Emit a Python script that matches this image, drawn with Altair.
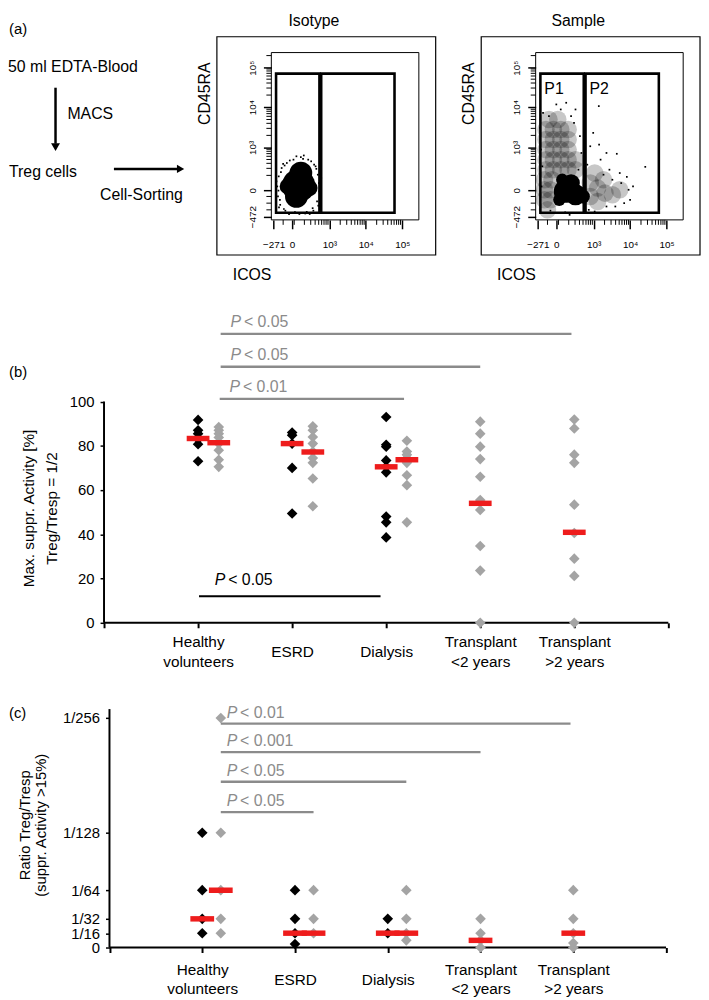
import json
import math
import altair as alt
import pandas as pd

FONT = "Liberation Sans"
GRAY_PT = "#a4a4a4"
GRAY_LN = "#8b8b8b"
RED = "#ee1c1c"

# ======================= DATA =======================
category_lines = [["Healthy", "volunteers"], ["ESRD"], ["Dialysis"],
                  ["Transplant", "<2 years"], ["Transplant", ">2 years"]]

# ---- panel (b): Max. suppr. Activity [%], Treg/Tresp = 1/2
b_black_healthy = [91.7, 87.0, 85.5, 83.0, 80.7, 73.0]
b_black_esrd = [86.0, 84.8, 81.0, 70.0, 49.4]
b_black_dialysis = [93.0, 80.5, 79.6, 73.4, 70.5, 68.0, 48.0, 45.4, 38.6]
b_gray_healthy = [88.5, 87.0, 85.5, 83.8, 81.0, 78.0, 73.7, 70.5]
b_gray_esrd = [88.8, 87.0, 84.0, 81.0, 77.4, 74.5, 72.3, 65.2, 52.7]
b_gray_dialysis = [82.3, 77.4, 76.0, 74.5, 72.3, 66.7, 62.2, 45.4]
b_gray_tx_lt2 = [90.9, 85.5, 79.6, 74.0, 66.0, 55.5, 51.0, 34.7, 23.6, 0.0]
b_gray_tx_gt2 = [91.9, 87.8, 76.0, 72.3, 53.4, 40.6, 29.0, 21.2, 0.0]
b_median_black = [83.3, 81.0, 70.5]
b_median_gray = [81.4, 77.2, 73.7, 54.0, 40.9]
b_ticks = [0, 20, 40, 60, 80, 100]
b_sig_from = [1.24, 1.24, 1.23]
b_sig_to = [4.97, 4.0, 3.19]
b_sig_level = [130.6, 115.7, 101.2]
b_sig_text = ["< 0.05", "< 0.05", "< 0.01"]
b_sigk_from = [1.01]
b_sigk_to = [2.94]
b_sigk_level = [12.0]
b_sigk_text = ["< 0.05"]

# ---- panel (c): Ratio Treg/Tresp (denominator of ratio)
c_black_healthy = [128, 64, 32, 16]
c_black_esrd = [64, 32, 16, 4]
c_black_dialysis = [32, 16]
c_gray_healthy = [256, 128, 64, 32, 16]
c_gray_esrd = [64, 32, 16]
c_gray_dialysis = [64, 32, 16, 8]
c_gray_tx_lt2 = [32, 16, 8, 0]
c_gray_tx_gt2 = [64, 32, 16, 5, 0]
c_median_black = [32, 16, 16]
c_median_gray = [64, 16, 16, 8, 16]
c_ticks = [0, 16, 32, 64, 128, 256]
c_tick_labels = ["0", "1/16", "1/32", "1/64", "1/128", "1/256"]
c_sig_from = [1.2, 1.2, 1.2, 1.2]
c_sig_to = [4.97, 4.0, 3.2, 2.2]
c_sig_level = [249.8, 218.0, 185.0, 151.0]
c_sig_text = ["< 0.01", "< 0.001", "< 0.05", "< 0.05"]

# ---- panel (a): flow cytometry (display units 0-100 on each axis)
flow_x_ticks = [1.5, 14, 39.3, 64, 88.7]
flow_x_labels = ["\u2212271", "0", "10\u00b3", "10\u2074", "10\u2075"]
flow_y_ticks = [2, 17.7, 43.3, 67.4, 91]
flow_y_labels = ["\u2212472", "0", "10\u00b3", "10\u2074", "10\u2075"]
flow_x_minor = [8, 15.5, 22.4, 26.7, 29.7, 32.1, 34.1, 35.7, 37.1, 38.4,
                46.7, 51.1, 54.2, 56.6, 58.5, 60.2, 61.6, 62.9,
                71.4, 75.8, 78.9, 81.3, 83.2, 84.9, 86.3, 87.6]
flow_y_minor = [6, 10, 14, 26.6, 30.8, 33.8, 36.1, 38.0, 39.6, 41.0, 42.2,
                50.5, 54.7, 57.7, 60.0, 61.9, 63.5, 64.9, 66.1,
                74.6, 78.8, 81.8, 84.1, 86.0, 87.6, 89.0, 90.2, 98.2]
gate_x1 = [3.2, 33.8]
gate_x2 = [32.6, 83.5]
gate_y1 = [4.3, 4.3]
gate_y2 = [87.4, 87.4]
gate_names = ["P1", "P2"]

# isotype: one dense event cloud (core discs) + scattered edge events
iso_blob_x = [18.5, 17.0, 20.0, 11.0, 26.0]
iso_blob_y = [20.5, 14.0, 28.0, 20.0, 19.0]
iso_blob_op = [1, 1, 1, 1, 1]
iso_speck_x = [4.0, 4.5, 5.0, 6.0, 7.0, 9.5, 10.5, 14, 15, 19, 20, 24, 25, 28, 29, 31, 31.5,
               32.5, 32.2, 33.5, 3.5, 8, 12, 22, 27, 30.5, 26, 5.2, 33.8, 4.8, 6.5, 8.5, 12.5,
               17.0, 21.5, 28.5, 30.0, 32.8, 31.8, 23.0, 16.0, 9.0, 5.8]
iso_speck_y = [20, 14, 26, 9, 31, 5.5, 34, 4.2, 36, 3.5, 37.5, 4.8, 36, 7, 33, 11, 27,
               17, 22, 13, 23, 33.5, 3.5, 38.5, 35, 30.5, 3.5, 7.5, 25, 17.5, 28.5, 6.5, 35.5,
               38.0, 36.5, 5.5, 32.0, 20.0, 8.5, 3.8, 4.6, 32.5, 12.0]

# sample: dense CD45RA- core, CD45RA+ population (P1) and ICOS+ tail (P2)
smp_core_x = [20, 27, 24, 32, 16, 18]
smp_core_y = [17, 15, 22, 14, 12, 24]
smp_cloud_x = [9, 15,
               7, 12, 17, 22,
               7, 12, 17, 22,
               7, 12, 17, 22,
               7, 12, 17, 22, 27,
               7, 12, 17, 22, 27,
               6, 11, 6, 10, 6, 10, 8,
               37, 37, 42, 42, 47, 52, 57, 46, 40]
smp_cloud_y = [60, 60,
               54, 54, 54, 54,
               48, 48, 48, 48,
               42, 42, 42, 42,
               36, 36, 36, 36, 36,
               30, 30, 30, 30, 30,
               24, 24, 18, 18, 12, 12, 6,
               22, 14, 19, 11, 16, 15, 18, 24, 28]
smp_speck_x = [74.3, 42.8, 20.7, 14.0, 55.0, 61.8, 37.0, 44.0, 50.0, 58.0, 63.0, 48.0, 40.0,
               30.0, 20.0, 10.0, 4.0, 3.5, 3.0, 5.0, 27.0, 26.0, 30.0, 31.0, 35.0, 46.0,
               52.0, 57.0, 64.0, 36.0, 23.0, 43.0, 39.0, 48.0, 66.0, 60.0, 33.0, 24.0,
               9.0, 17.0, 4.5, 29.0, 33.0, 54.0, 45.0]
smp_speck_y = [31.7, 68.0, 70.0, 69.0, 39.5, 25.7, 44.0, 36.0, 30.0, 22.0, 18.0, 8.0, 5.0,
               4.0, 4.5, 5.5, 20.0, 42.0, 55.0, 64.0, 66.0, 58.0, 50.0, 40.0, 33.0, 27.0,
               24.0, 28.0, 12.0, 6.0, 3.0, 45.0, 52.0, 40.0, 20.0, 10.0, 58.0, 62.0,
               62.0, 66.0, 32.0, 30.0, 25.0, 8.0, 4.0]

# ======================= STYLE / LAYOUT =======================
iso_blob_d = [38, 26, 26, 18, 18]
smp_core_d = [26, 24, 20, 16, 14, 14]
CLOUD_D = 20
CLOUD_OP = 0.22
OFF_B = 0.22
OFF_C = 0.20


def label_expr(pos, labs):
    expr = "''"
    for p, l in reversed(list(zip(pos, labs))):
        expr = f"datum.value == {p} ? {json.dumps(l, ensure_ascii=False)} : ({expr})"
    return expr


def one():
    return alt.Data(values=[{"a": 1}])


def const_text(text, x, y, size=16, align="left", baseline="middle", angle=None,
               italic=False, color="black", lh=None):
    kw = dict(text=text, align=align, baseline=baseline, fontSize=size, font=FONT, color=color)
    if angle is not None:
        kw["angle"] = angle
    if italic:
        kw["fontStyle"] = "italic"
    if lh is not None:
        kw["lineHeight"] = lh
    return alt.Chart(one()).mark_text(**kw).encode(x=alt.value(x), y=alt.value(y))


def const_rule(x, x2, y, y2, width=2.5):
    return alt.Chart(one()).mark_rule(strokeWidth=width, color="black").encode(
        x=alt.value(x), x2=alt.value(x2), y=alt.value(y), y2=alt.value(y2))


def const_point(shape, x, y, size):
    return alt.Chart(one()).mark_point(shape=shape, filled=True, size=size, color="black",
                                       opacity=1, strokeWidth=0).encode(x=alt.value(x), y=alt.value(y))


# ---------- row (a) : flow chart text + two cytometry plots ----------
flowchart = alt.layer(
    const_text("(a)", -96, -24.2, 15),
    const_text("50 ml EDTA-Blood", -97, 14.2, 16),
    const_rule(-49, -49, 35.5, 92),
    const_point("triangle-down", -49, 95.6, 81),
    const_text("MACS", -37, 62.5, 16),
    const_text("Treg cells", -96, 120.5, 16),
    const_rule(10, 76, 117.5, 117.5),
    const_point("triangle-right", 77.3, 117.5, 72),
    const_text("Cell-Sorting", -4, 144.2, 16),
).properties(width=51, height=252)


def flow_panel(title, blob_df, sx, sy, with_labels):
    FX = alt.X("x:Q", scale=alt.Scale(domain=[0, 100], nice=False, zero=False),
               axis=alt.Axis(values=flow_x_ticks, labelExpr=label_expr(flow_x_ticks, flow_x_labels),
                             title=None, grid=False, domain=False, tickColor="black", tickSize=9,
                             tickWidth=1.5, labelFont=FONT, labelFontSize=10, labelColor="black",
                             labelPadding=11, labelFlush=False, labelOverlap=False, labelBaseline="top"))
    FY = alt.Y("y:Q", scale=alt.Scale(domain=[0, 100], nice=False, zero=False),
               axis=alt.Axis(values=flow_y_ticks, labelExpr=label_expr(flow_y_ticks, flow_y_labels),
                             title=None, grid=False, domain=False, tickColor="black", tickSize=8,
                             tickWidth=1.5, labelFont=FONT, labelFontSize=10, labelColor="black",
                             labelAngle=270, labelAlign="center", labelBaseline="bottom",
                             labelPadding=6, labelFlush=False, labelOverlap=False))
    frame = alt.Chart(pd.DataFrame({"x": [0], "x2": [100], "y": [0], "y2": [100]})).mark_rect(
        fillOpacity=0, stroke="black", strokeWidth=1).encode(x=FX, x2="x2:Q", y=FY, y2="y2:Q")
    outer = alt.Chart(one()).mark_rect(fillOpacity=0, stroke="black", strokeWidth=1.2).encode(
        x=alt.value(-55), x2=alt.value(166), y=alt.value(-16), y2=alt.value(204.5))
    blobs = alt.Chart(blob_df).mark_circle(color="black", strokeWidth=0).encode(
        x=FX, y=FY, size=alt.Size("size:Q", scale=None), opacity=alt.Opacity("op:Q", scale=None))
    speck = alt.Chart(pd.DataFrame({"x": sx, "y": sy})).mark_square(
        size=3, color="black", opacity=1, strokeWidth=0).encode(x=FX, y=FY)
    gates = alt.Chart(pd.DataFrame({"x": gate_x1, "x2": gate_x2, "y": gate_y1, "y2": gate_y2})).mark_rect(
        fillOpacity=0, stroke="black", strokeWidth=2.6).encode(x=FX, x2="x2:Q", y=FY, y2="y2:Q")
    minor_x = alt.Chart(pd.DataFrame({"x": flow_x_minor})).mark_rule(color="black", strokeWidth=1).encode(
        x=FX, y=alt.value(169), y2=alt.value(174))
    minor_y = alt.Chart(pd.DataFrame({"y": flow_y_minor})).mark_rule(color="black", strokeWidth=1).encode(
        y=FY, x=alt.value(0), x2=alt.value(-5))
    layers = [frame, outer, blobs, speck, gates, minor_x, minor_y,
              const_text(title, 43, -39.5, 16, align="center", baseline="top"),
              const_text("CD45RA", -67, 41.5, 16, align="center", angle=270),
              const_text("ICOS", -39, 224.5, 16)]
    if with_labels:
        layers.append(alt.Chart(pd.DataFrame({"x": gate_x1, "y": gate_y2, "t": gate_names})).mark_text(
            align="left", baseline="middle", dx=4, dy=15.5, fontSize=16, font=FONT, color="black").encode(
            x=FX, y=FY, text="t:N"))
    return alt.layer(*layers).properties(width=149, height=169)


def disc(d):
    return math.pi * (d / 2) ** 2


iso_df = pd.DataFrame({"x": iso_blob_x, "y": iso_blob_y, "size": [disc(d) for d in iso_blob_d],
                       "op": iso_blob_op})
smp_df = pd.concat([
    pd.DataFrame({"x": smp_cloud_x, "y": smp_cloud_y, "size": disc(CLOUD_D), "op": CLOUD_OP}),
    pd.DataFrame({"x": smp_core_x, "y": smp_core_y, "size": [disc(d) for d in smp_core_d], "op": 1.0}),
], ignore_index=True)

iso = flow_panel("Isotype", iso_df, iso_speck_x, iso_speck_y, False)
smp = flow_panel("Sample", smp_df, smp_speck_x, smp_speck_y, True)
row_a = alt.hconcat(flowchart, iso, smp, spacing=118, bounds="flush")


# ---------- rows (b) and (c) ----------
def make_points(black_lists, gray_lists):
    rows = []
    for g, vals in enumerate(black_lists, start=1):
        rows += [{"g": g, "s": "black", "v": v} for v in vals]
    for g, vals in enumerate(gray_lists, start=1):
        rows += [{"g": g, "s": "gray", "v": v} for v in vals]
    return pd.DataFrame(rows)


def dot_panel(pts, meds, sig, sigk, *, width, height, xdom, ydom, yticks, ylabels, yoffset, yaxis_top,
              xlab_pad, xlab_lh, off, p_dx, p_dy, k_dx, k_dy, title_lines, title_x, title_y, title_lh,
              title_size, tag, tag_y, ylab_size, tick_len):
    xexpr = json.dumps([[""]] + category_lines + [[""]], ensure_ascii=False) + "[datum.value]"
    X = alt.X("x:Q", scale=alt.Scale(domain=xdom, nice=False, zero=False),
              axis=alt.Axis(values=list(range(7)), labelExpr=xexpr, title=None, grid=False, domain=False,
                            tickColor="black", tickWidth=2, tickSize=5, labelFont=FONT, labelFontSize=15.5,
                            labelColor="black", labelAlign="center",
                            labelBaseline={"condition": {"test": "datum.value == 2 || datum.value == 3",
                                                         "value": "middle"},
                                           "value": "line-bottom"},
                            labelPadding=xlab_pad, labelLineHeight=xlab_lh, labelFlush=False,
                            labelOverlap=False))
    yax = dict(values=yticks, title=None, grid=False, domain=False, tickColor="black", tickWidth=1.5,
               tickSize=4, offset=yoffset, labelFont=FONT, labelFontSize=ylab_size, labelColor="black",
               labelPadding=6, labelFlush=False, labelOverlap=False)
    if ylabels:
        yax["labelExpr"] = label_expr(yticks, ylabels)
    Y = alt.Y("y:Q", scale=alt.Scale(domain=ydom, nice=False, zero=False), axis=alt.Axis(**yax))
    xcalc = f"datum.g + (datum.s == 'gray' && datum.g <= 3 ? {off} : 0)"

    lines = alt.Chart(pd.DataFrame({"x": [0, 0], "x2": [6, 0], "y": [0, 0], "y2": [0, yaxis_top]})).mark_rule(
        color="black", strokeWidth=2).encode(x=X, x2="x2:Q", y=Y, y2="y2:Q")
    points = alt.Chart(pts).transform_calculate(x=xcalc, y="datum.v").mark_point(
        shape="diamond", filled=True, size=115, opacity=1, strokeWidth=0).encode(
        x=X, y=Y, color=alt.Color("s:N", scale=alt.Scale(domain=["black", "gray"], range=["#000000", GRAY_PT]),
                                  legend=None))
    med = alt.Chart(meds).transform_calculate(x=xcalc, y="datum.v").mark_tick(
        orient="horizontal", size=tick_len, thickness=5.5, color=RED, opacity=1).encode(x=X, y=Y)
    layers = [lines, points, med]
    for df, col, dx, dy, wid in ((sig, GRAY_LN, p_dx, p_dy, 2.4), (sigk, "black", k_dx, k_dy, 2.2)):
        if df is None:
            continue
        layers.append(alt.Chart(df).mark_rule(color=col, strokeWidth=wid).encode(x=X, x2="x2:Q", y=Y))
        layers.append(alt.Chart(df).mark_text(text="P", fontStyle="italic", align="left", baseline="middle",
                                              dx=dx, dy=dy, fontSize=16, font=FONT, color=col).encode(x=X, y=Y))
        layers.append(alt.Chart(df).mark_text(align="left", baseline="middle", dx=dx + 13.5, dy=dy,
                                              fontSize=16, font=FONT, color=col).encode(x=X, y=Y, text="p:N"))
    layers.append(const_text(tag, -96, tag_y, 15))
    layers.append(const_text(title_lines, title_x, title_y, title_size, align="center", baseline="middle",
                             angle=270, lh=title_lh))
    return alt.layer(*layers).properties(width=width, height=height)


b_pts = make_points([b_black_healthy, b_black_esrd, b_black_dialysis],
                    [b_gray_healthy, b_gray_esrd, b_gray_dialysis, b_gray_tx_lt2, b_gray_tx_gt2])
b_med = make_points([[m] for m in b_median_black], [[m] for m in b_median_gray])
b_sig = pd.DataFrame({"x": b_sig_from, "x2": b_sig_to, "y": b_sig_level, "p": b_sig_text})
b_sigk = pd.DataFrame({"x": b_sigk_from, "x2": b_sigk_to, "y": b_sigk_level, "p": b_sigk_text})

B_H = 324
row_b = dot_panel(b_pts, b_med, b_sig, b_sigk, width=570, height=B_H, xdom=[0, 6], ydom=[0, B_H / 2.235],
                  yticks=b_ticks, ylabels=None, yoffset=0, yaxis_top=100, xlab_pad=24.4, xlab_lh=19.5,
                  off=OFF_B, p_dx=10, p_dy=-11.7, k_dx=16, k_dy=-16.7,
                  title_lines=["Max. suppr. Activity [%]", "Treg/Tresp = 1/2"], title_x=-75.5,
                  title_y=B_H - 115.5, title_lh=22.5, title_size=15.5, tag="(b)", tag_y=B_H - 253.5,
                  ylab_size=15, tick_len=23)

c_pts = make_points([c_black_healthy, c_black_esrd, c_black_dialysis],
                    [c_gray_healthy, c_gray_esrd, c_gray_dialysis, c_gray_tx_lt2, c_gray_tx_gt2])
c_med = make_points([[m] for m in c_median_black], [[m] for m in c_median_gray])
c_sig = pd.DataFrame({"x": c_sig_from, "x2": c_sig_to, "y": c_sig_level, "p": c_sig_text})

C_H = 280
row_c = dot_panel(c_pts, c_med, c_sig, None, width=570, height=C_H, xdom=[-0.0587, 6.0245],
                  ydom=[0, C_H / 0.9055], yticks=c_ticks, ylabels=c_tick_labels, yoffset=-5.5, yaxis_top=266,
                  xlab_pad=27, xlab_lh=19, off=OFF_C, p_dx=6, p_dy=-11, k_dx=0, k_dy=0,
                  title_lines=["Ratio Treg/Tresp", "(suppr. Activity >15%)"], title_x=-80,
                  title_y=C_H - 123.5, title_lh=16, title_size=15, tag="(c)", tag_y=C_H - 236.8,
                  ylab_size=15, tick_len=24)

chart = alt.concat(row_a, row_b, row_c, columns=1, spacing=0, bounds="full").properties(
    padding=0).configure_view(stroke=None)

chart.save("out.html", embed_options={"renderer": "svg", "actions": False})
